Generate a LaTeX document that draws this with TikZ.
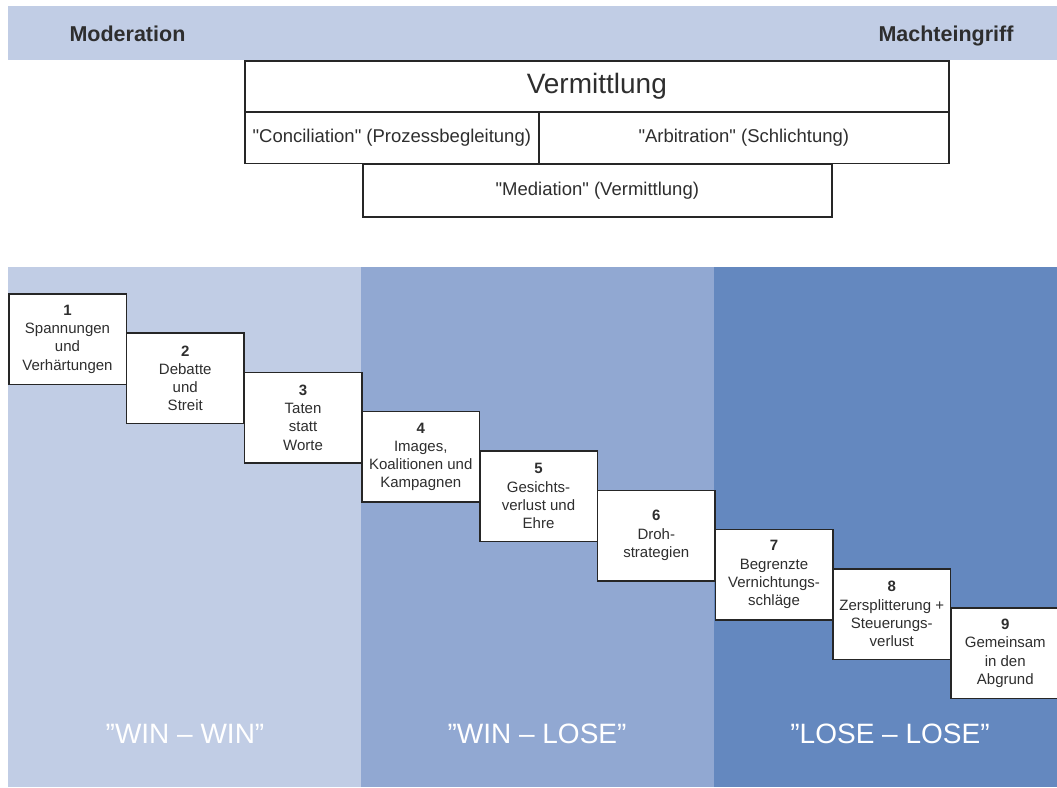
\documentclass[tikz,border=0pt]{standalone}
\usepackage{fontspec}
\setmainfont{Liberation Sans}
\definecolor{bandA}{HTML}{C1CDE5}
\definecolor{bandB}{HTML}{91A8D2}
\definecolor{bandC}{HTML}{6488BF}
\definecolor{ink}{HTML}{2E2E2E}
\definecolor{boxline}{HTML}{262626}
\newcommand{\sq}{\textquotedbl}
\tikzset{
  topbox/.style={draw=boxline, line width=1.6pt, fill=white, inner sep=0pt, anchor=north west, text=ink},
  toptext/.style={font=\fontsize{18.5}{20}\selectfont},
  stepbox/.style={draw=boxline, line width=1.5pt, fill=white, anchor=north west,
    minimum width=117.5pt, minimum height=90.5pt, inner sep=0pt, align=center,
    font=\fontsize{15}{18.3}\selectfont, text=ink},
  headlabel/.style={font=\bfseries\fontsize{21.5}{24}\selectfont, text=ink},
  zonelabel/.style={text=white, font=\fontsize{28}{30}\selectfont, anchor=base}
}
\begin{document}
\begin{tikzpicture}[x=1pt,y=-1pt]
\useasboundingbox (0,0) rectangle (1057,787);
\clip (0,0) rectangle (1057,787);
% top band
\fill[bandA] (8,6) rectangle (1057,60);
\node[headlabel, anchor=base west] (moderation) at (66,41.7) {Moderation};
\node[headlabel, anchor=base east] (machteingriff) at (1017,41.7) {Machteingriff};
% Vermittlung boxes
\node[topbox, minimum width=704pt, minimum height=50.5pt, font=\fontsize{28}{30}\selectfont] (verm) at (244,60) {Vermittlung};
\node[topbox, toptext, minimum width=294pt, minimum height=51pt] (conc) at (244,111.5) {\sq Conciliation\sq{} (Prozessbegleitung)};
\node[topbox, toptext, minimum width=410pt, minimum height=51pt] (arb) at (538,111.5) {\sq Arbitration\sq{} (Schlichtung)};
\node[topbox, toptext, minimum width=469pt, minimum height=53pt] (med) at (362,163) {\sq Mediation\sq{} (Vermittlung)};
% zones
\fill[bandA] (8,267) rectangle (361,787);
\fill[bandB] (361,267) rectangle (714,787);
\fill[bandC] (714,267) rectangle (1057,787);
% steps
\node[stepbox] (s1) at (8,293) {\textbf{1}\\Spannungen\\und\\Verhärtungen};
\node[stepbox] (s2) at (125.75,332.3) {\textbf{2}\\Debatte\\und\\Streit};
\node[stepbox] (s3) at (243.5,371.6) {\textbf{3}\\Taten\\statt\\Worte};
\node[stepbox] (s4) at (361.25,410.9) {\textbf{4}\\Images,\\Koalitionen und\\Kampagnen};
\node[stepbox] (s5) at (479,450.2) {\textbf{5}\\Gesichts-\\verlust und\\Ehre};
\node[stepbox] (s6) at (596.75,489.5) {\textbf{6}\\Droh-\\strategien};
\node[stepbox] (s7) at (714.5,528.8) {\textbf{7}\\Begrenzte\\Vernichtungs-\\schläge};
\node[stepbox] (s8) at (832.25,568.1) {\textbf{8}\\Zersplitterung +\\Steuerungs-\\verlust};
\node[stepbox, minimum width=109pt] (s9) at (950,607.4) {\textbf{9}\\Gemeinsam\\in den\\Abgrund};
% zone labels
\node[zonelabel] (l1) at (185,743) {”WIN – WIN”};
\node[zonelabel] (l2) at (537,743) {”WIN – LOSE”};
\node[zonelabel] (l3) at (890,743) {”LOSE – LOSE”};
\end{tikzpicture}
\end{document}
